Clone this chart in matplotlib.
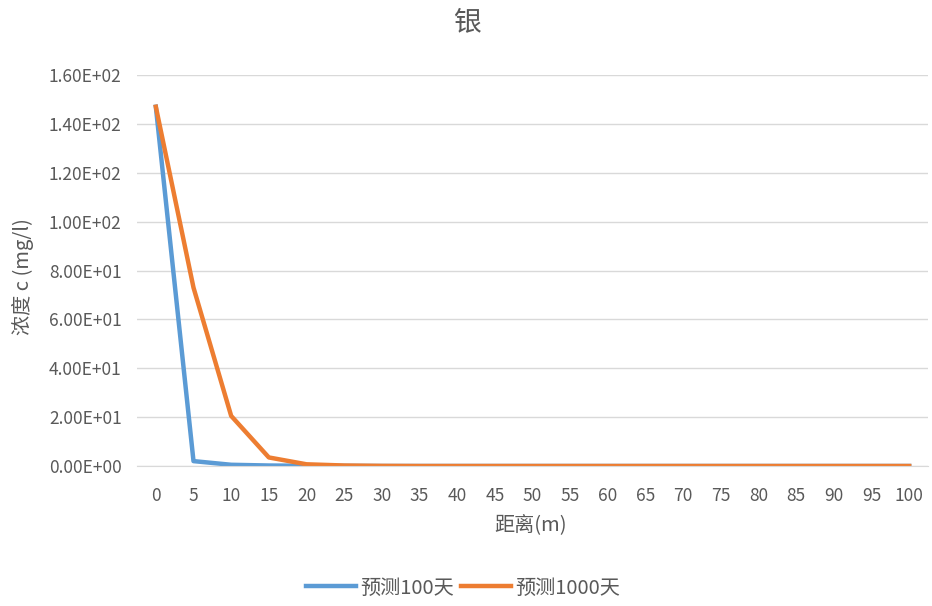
import numpy as np
import matplotlib
matplotlib.use("Agg")
import matplotlib.pyplot as plt
from matplotlib.ticker import FuncFormatter

plt.rcParams['font.family'] = ['Noto Sans CJK SC', 'DejaVu Sans']

# Data
distance = list(range(0, 101, 5))
conc_100d = [147.0, 2.0, 0.5, 0.2, 0.1, 0.05, 0, 0, 0, 0, 0, 0, 0, 0, 0, 0, 0, 0, 0, 0, 0]
conc_1000d = [147.0, 73.0, 20.5, 3.5, 0.7, 0.2, 0.05, 0, 0, 0, 0, 0, 0, 0, 0, 0, 0, 0, 0, 0, 0]
series_names = ["预测100天", "预测1000天"]
y_ticks = [0, 20, 40, 60, 80, 100, 120, 140, 160]

text_color = "#595959"
grid_color = "#D9D9D9"

fig = plt.figure(figsize=(9.32, 6.06), dpi=100)
ax = fig.add_axes([137 / 932, 1 - 466 / 606, (928 - 137) / 932, (466 - 75) / 606])

x = np.arange(len(distance))
ax.plot(x, conc_100d, color="#5B9BD5", lw=3.2, label=series_names[0], solid_joinstyle="round")
ax.plot(x, conc_1000d, color="#ED7D31", lw=3.2, label=series_names[1], solid_joinstyle="round")

ax.set_xlim(-0.5, len(distance) - 0.5)
ax.set_ylim(0, 160)
ax.set_yticks(y_ticks)
ax.yaxis.set_major_formatter(FuncFormatter(lambda v, p: f"{v:.2E}"))
ax.set_xticks(x)
ax.set_xticklabels([str(d) for d in distance])

ax.grid(axis="y", color=grid_color, lw=1)
ax.set_axisbelow(True)
for side in ("top", "right", "left"):
    ax.spines[side].set_visible(False)
ax.spines["bottom"].set_color(grid_color)
ax.tick_params(length=0, colors=text_color, labelsize=12.5)
ax.tick_params(axis="x", pad=15)
ax.tick_params(axis="y", pad=11)

fig.text(467 / 932, 1 - 22 / 606, "银", ha="center", va="center", fontsize=20, color=text_color)
fig.text(531 / 932, 1 - 525 / 606, "距离(m)", ha="center", va="center", fontsize=14.5, color=text_color)
fig.text(23 / 932, 1 - 277 / 606, "浓度 c (mg/l)", ha="center", va="center", rotation=90,
         fontsize=14.5, color=text_color)

leg = fig.legend(loc="center", bbox_to_anchor=(463 / 932, 1 - 588 / 606), ncol=2, frameon=False,
                 fontsize=14.5, handlelength=2.5, columnspacing=0.35, handletextpad=0.2)
for t in leg.get_texts():
    t.set_color(text_color)

fig.savefig("out.png", dpi=100, facecolor="white")
